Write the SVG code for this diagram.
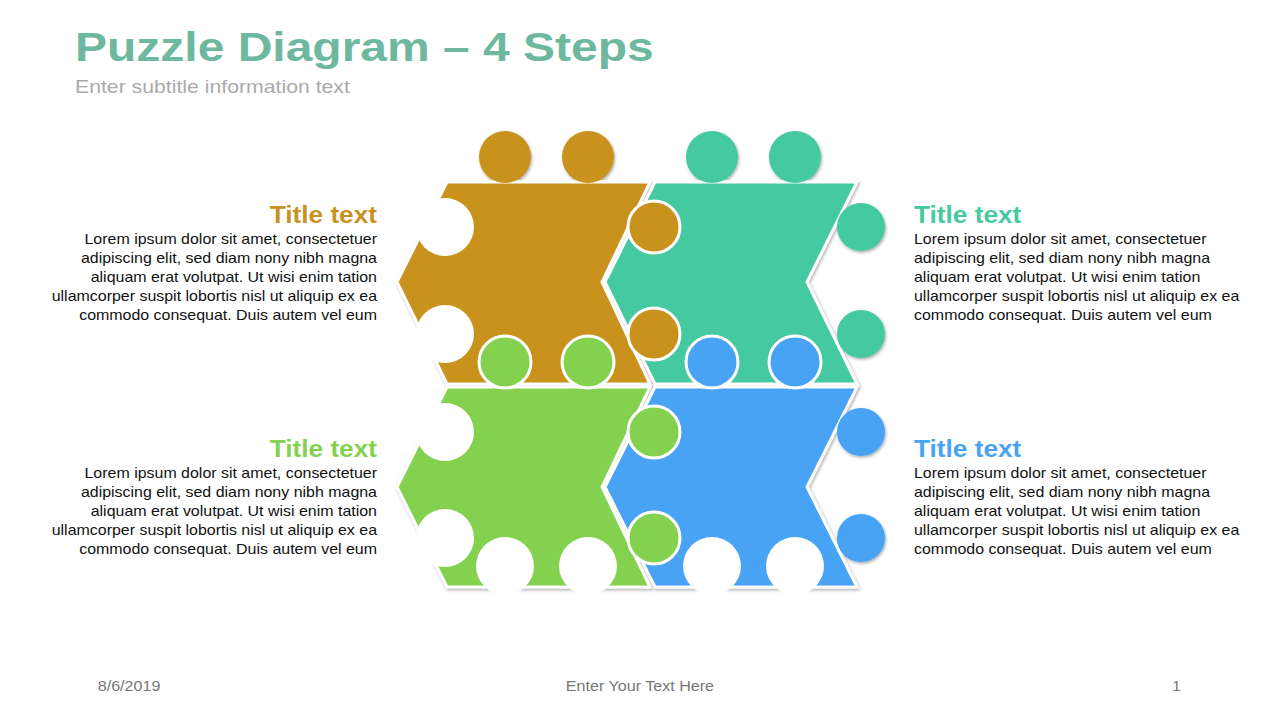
<svg xmlns="http://www.w3.org/2000/svg" width="1280" height="719" viewBox="0 0 1280 719">
<style>
text{font-family:"Liberation Sans",Arial,sans-serif}
.b{font-size:14px;fill:#111}
.h{font-size:23px;font-weight:bold}
.p{stroke:#fff;stroke-width:3}
.w{fill:#fff}
.f{font-size:14px;fill:#777}
</style>
<defs><filter id="s" x="-10%" y="-10%" width="120%" height="120%"><feDropShadow dx="1" dy="1.5" stdDeviation="1.5" flood-color="#000" flood-opacity="0.35"/></filter></defs>
<rect width="1280" height="719" fill="#fff"/>
<text transform="translate(75,61) scale(1.2,1)" x="0" y="0" font-weight="bold" fill="#6fb8a0" style="font-size:40px">Puzzle Diagram – 4 Steps</text>
<text transform="translate(75,93) scale(1.18,1)" x="0" y="0" style="font-size:18px" fill="#aaa">Enter subtitle information text</text>
<g filter="url(#s)">
<g id="teal" fill="#45C9A0"><polygon class="p" points="655,182 857,182 807,282 857,384 655,384 605,282"/><circle cx="712" cy="157" r="26"/><circle cx="795" cy="157" r="26"/><circle cx="861" cy="227" r="24"/><circle cx="861" cy="334" r="24"/></g>
<g id="brown" fill="#C8921E"><polygon class="p" points="447,182 650,182 602,282 650,384 447,384 397,282"/><circle cx="505" cy="157" r="26"/><circle cx="588" cy="157" r="26"/><circle class="p" cx="654" cy="227" r="26"/><circle class="p" cx="654" cy="334" r="26"/></g>
<g id="blue" fill="#48A3F5"><polygon class="p" points="655,387 857,387 807,487 857,587 655,587 605,487"/><circle class="p" cx="712" cy="362" r="26"/><circle class="p" cx="795" cy="362" r="26"/><circle cx="861" cy="432" r="24"/><circle cx="861" cy="538" r="24"/></g>
<g id="green" fill="#84D14F"><polygon class="p" points="447,387 650,387 602,487 650,587 447,587 397,487"/><circle class="p" cx="505" cy="362" r="26"/><circle class="p" cx="588" cy="362" r="26"/><circle class="p" cx="654" cy="432" r="26"/><circle class="p" cx="654" cy="538" r="26"/></g>
</g>
<g id="notches" class="w"><circle cx="445" cy="227" r="29"/><circle cx="445" cy="334" r="29"/><circle cx="445" cy="432" r="29"/><circle cx="445" cy="538" r="29"/><circle cx="505" cy="566" r="29"/><circle cx="588" cy="566" r="29"/><circle cx="712" cy="566" r="29"/><circle cx="795" cy="566" r="29"/></g>
<g id="t1" text-anchor="end" transform="translate(377,0) scale(1.14,1)"><text class="h" x="0" y="223" fill="#C8921E">Title text</text>
<text class="b" x="0" y="244">Lorem ipsum dolor sit amet, consectetuer</text><text class="b" x="0" y="263">adipiscing elit, sed diam nony nibh magna</text><text class="b" x="0" y="282">aliquam erat volutpat. Ut wisi enim tation</text><text class="b" x="0" y="301">ullamcorper suspit lobortis nisl ut aliquip ex ea</text><text class="b" x="0" y="320">commodo consequat. Duis autem vel eum</text></g>
<g id="t3" text-anchor="end" transform="translate(377,0) scale(1.14,1)"><text class="h" x="0" y="457" fill="#84D14F">Title text</text>
<text class="b" x="0" y="478">Lorem ipsum dolor sit amet, consectetuer</text><text class="b" x="0" y="497">adipiscing elit, sed diam nony nibh magna</text><text class="b" x="0" y="516">aliquam erat volutpat. Ut wisi enim tation</text><text class="b" x="0" y="535">ullamcorper suspit lobortis nisl ut aliquip ex ea</text><text class="b" x="0" y="554">commodo consequat. Duis autem vel eum</text></g>
<g id="t2" transform="translate(914,0) scale(1.14,1)"><text class="h" x="0" y="223" fill="#45C9A0">Title text</text>
<text class="b" x="0" y="244">Lorem ipsum dolor sit amet, consectetuer</text><text class="b" x="0" y="263">adipiscing elit, sed diam nony nibh magna</text><text class="b" x="0" y="282">aliquam erat volutpat. Ut wisi enim tation</text><text class="b" x="0" y="301">ullamcorper suspit lobortis nisl ut aliquip ex ea</text><text class="b" x="0" y="320">commodo consequat. Duis autem vel eum</text></g>
<g id="t4" transform="translate(914,0) scale(1.14,1)"><text class="h" x="0" y="457" fill="#48A3F5">Title text</text>
<text class="b" x="0" y="478">Lorem ipsum dolor sit amet, consectetuer</text><text class="b" x="0" y="497">adipiscing elit, sed diam nony nibh magna</text><text class="b" x="0" y="516">aliquam erat volutpat. Ut wisi enim tation</text><text class="b" x="0" y="535">ullamcorper suspit lobortis nisl ut aliquip ex ea</text><text class="b" x="0" y="554">commodo consequat. Duis autem vel eum</text></g>
<g transform="scale(1.15,1)">
<text class="f" x="85" y="691">8/6/2019</text>
<text class="f" x="556.5" y="691" text-anchor="middle">Enter Your Text Here</text>
<text class="f" x="1027" y="691" text-anchor="end">1</text>
</g>
</svg>
